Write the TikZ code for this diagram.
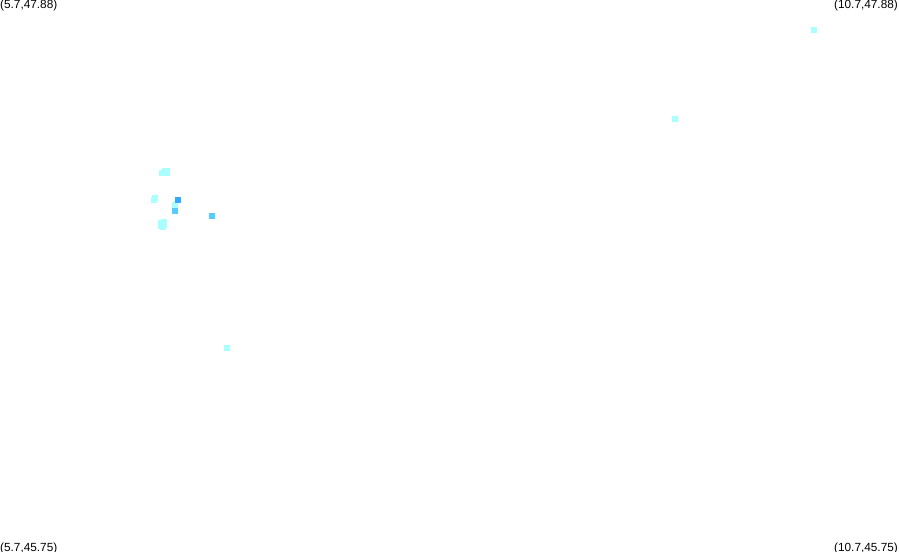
\documentclass[tikz,border=0pt]{standalone}
\usepackage{fontspec}
\setmainfont{Liberation Sans}
\definecolor{palecell}{HTML}{AAFFFF}
\definecolor{midcell}{HTML}{55CCFF}
\definecolor{deepcell}{HTML}{33AAFF}
\tikzset{
	cell/.style={inner sep=0pt,minimum size=6bp,draw=none,anchor=center},
	cornerlabel/.style={inner sep=0pt,font=\fontsize{11.8bp}{12bp}\selectfont}
}
\begin{document}
\begin{tikzpicture}[x=1bp,y=-1bp]
	\useasboundingbox (0,0) rectangle (899,552);
	\clip (0,0) rectangle (899,552);
	\fill[white] (0,0) rectangle (899,552);
	
	% corners
	\node[cornerlabel,anchor=base west] (topleft) at (0,9) {(5.7,47.88)};
	\node[cornerlabel,anchor=base east] (topright) at (898,9) {(10.7,47.88)};
	\node[cornerlabel,anchor=base west] (bottomleft) at (0,551) {(5.7,45.75)};
	\node[cornerlabel,anchor=base east] (bottomright) at (898,551) {(10.7,45.75)};
	
	% pale cells
	\foreach \cx/\cy [count=\ci] in {814/30,675/119,227/348,162/173,167/173,165/171,167/171,154/200,155/198,175/205,161/223,164/222,161/226,164/225,163/227}
		\node[cell,fill=palecell] (pale\ci) at (\cx,\cy) {};
	
	% stronger cells
	\node[cell,fill=midcell] (midA) at (175,211) {};
	\node[cell,fill=midcell] (midB) at (212,216) {};
	\node[cell,fill=deepcell] (deepA) at (178,200) {};
\end{tikzpicture}
\end{document}
